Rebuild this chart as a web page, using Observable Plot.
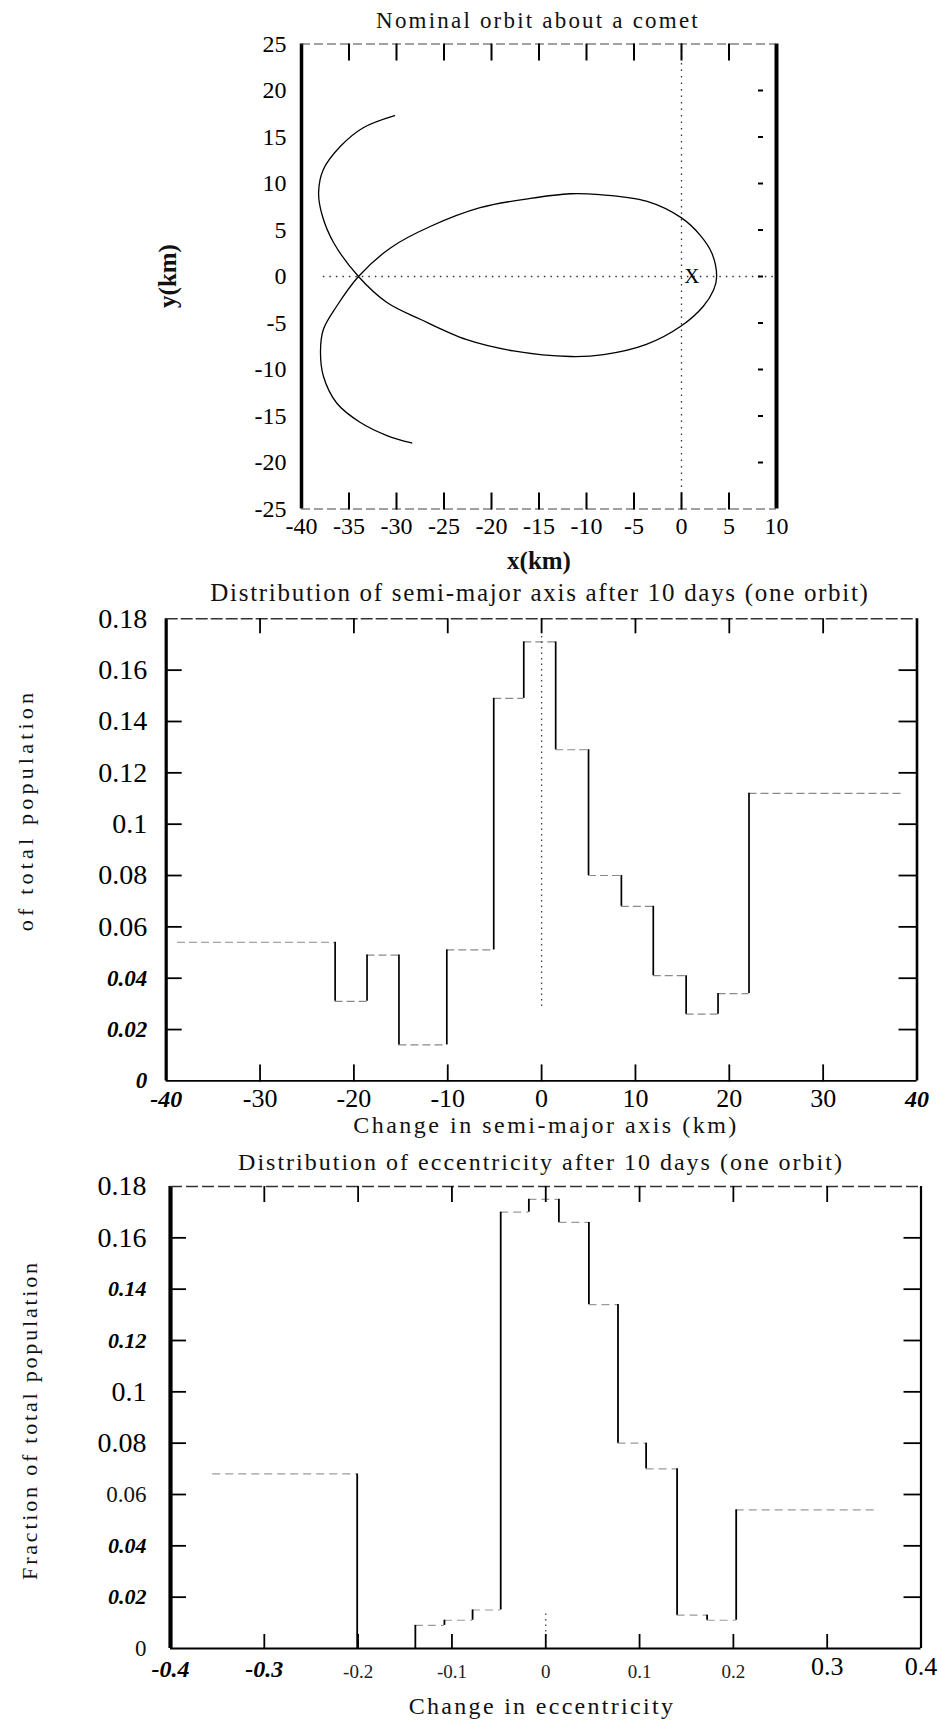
<!DOCTYPE html>
<html><head><meta charset="utf-8">
<script src="https://cdn.jsdelivr.net/npm/d3@7"></script>
<script src="https://cdn.jsdelivr.net/npm/@observablehq/plot@0.6"></script>
<style>
body{margin:0;background:#fff;}
#root{position:relative;width:939px;height:1720px;overflow:hidden;background:#fff;color:#000;font-family:"Liberation Serif","DejaVu Serif",serif;}
.p{position:absolute;left:0;}
.lbl{position:absolute;white-space:nowrap;font-family:"Liberation Serif","DejaVu Serif",serif;color:#111;transform:translate(-50%,-50%);line-height:1;}
.rot{transform:translate(-50%,-50%) rotate(-90deg);}
</style></head><body><div id="root"></div>
<script>
// ---------- Panel 1: nominal orbit ----------
const orbitX = [-30.2,-33.5,-35.9,-37.7,-38.2,-37.8,-36.6,-34.0,-31.0,-27.5,-22.6,-17.7,-11.7,-8.2,-3.7,0.0,2.3,3.4,3.7,3.2,2.0,0.0,-3.7,-8.6,-11.7,-15.9,-21.2,-26.4,-30.6,-34.0,-36.3,-37.7,-38.0,-37.7,-36.3,-33.8,-31.0,-28.4];
const orbitY = [17.3,16.0,14.0,11.5,9.0,6.5,3.6,0.0,-2.8,-4.6,-6.8,-8.0,-8.6,-8.4,-7.3,-5.3,-3.2,-1.4,0.0,2.5,4.4,6.3,8.1,8.8,8.9,8.4,7.4,5.4,3.1,0.0,-3.2,-5.7,-8.0,-10.7,-13.6,-15.7,-17.1,-17.9];
const originMarkX = [1.1];
const originMarkY = [0];
const orbitXTicks = [-40,-35,-30,-25,-20,-15,-10,-5,0,5,10];
const orbitYTicks = [25,20,15,10,5,0,-5,-10,-15,-20,-25];
const orbitInnerXTicks = [-35,-30,-25,-20,-15,-10,-5,0,5];
const orbitInnerYTicks = [20,15,10,5,0,-5,-10,-15,-20];

// ---------- Panel 2: semi-major axis histogram ----------
const semiEdges   = [-38.8,-22.0,-18.6,-15.2,-10.1,-5.1,-1.9,1.5,5.0,8.5,11.9,15.4,18.8,22.1,38.7];
const semiHeights = [0.054,0.031,0.049,0.014,0.051,0.149,0.171,0.129,0.080,0.068,0.041,0.026,0.034,0.112];
const semiYUpright = [0.18,0.16,0.14,0.12,0.1,0.08,0.06];
const semiYItalic  = [0.04,0.02,0];
const semiXUpright = [-30,-20,-10,0,10,20,30];
const semiXItalic  = [-40,40];
const semiInnerY = [0.02,0.04,0.06,0.08,0.1,0.12,0.14,0.16];
const semiInnerX = [-30,-20,-10,0,10,20,30];

// ---------- Panel 3: eccentricity histogram ----------
const eccEdges   = [-0.355,-0.201,-0.170,-0.139,-0.108,-0.078,-0.048,-0.018,0.014,0.046,0.077,0.107,0.140,0.172,0.203,0.355];
const eccHeights = [0.068,0.0,0.0,0.009,0.011,0.015,0.170,0.175,0.166,0.134,0.080,0.070,0.013,0.011,0.054];
const eccYLarge  = [0.18,0.16,0.1,0.08];
const eccYItalic = [0.14,0.12,0.04,0.02];
const eccYPlain  = [0.06,0];
const eccXItalic = [-0.4,-0.3];
const eccXSmall  = [-0.2,-0.1,0,0.1,0.2];
const eccXLarge  = [0.3,0.4];
const eccInnerY = [0.02,0.04,0.06,0.08,0.1,0.12,0.14,0.16];
const eccInnerX = [-0.3,-0.2,-0.1,0,0.1,0.2,0.3];

const FONT = "Liberation Serif, DejaVu Serif, serif";
const root = document.getElementById("root");

function stepSegments(edges, heights) {
  const hs = heights.map((h, i) => ({x1: edges[i], x2: edges[i + 1], y: h}));
  const vs = heights.slice(1).map((h, i) => ({x: edges[i + 1], y1: heights[i], y2: h}));
  return {hs, vs};
}
function place(el, top) { el.classList.add("p"); el.style.top = top + "px"; root.appendChild(el); }
function label(text, x, y, css, rot) {
  const d = document.createElement("div");
  d.className = "lbl" + (rot ? " rot" : "");
  d.textContent = text;
  d.style.left = x + "px"; d.style.top = y + "px";
  Object.assign(d.style, css || {});
  root.appendChild(d);
}
const innerTicks = (yt, xt, o) => [
  Plot.axisY(yt, {anchor: "right", frameAnchor: "left", tickSize: o.l, fill: "none", label: null, strokeWidth: 1.8}),
  Plot.axisY(yt, {anchor: "left", frameAnchor: "right", tickSize: o.r, fill: "none", label: null, strokeWidth: 1.8, dx: o.rdx || 0}),
  Plot.axisX(xt, {anchor: "bottom", frameAnchor: "top", tickSize: o.t, fill: "none", label: null, strokeWidth: 1.8}),
  Plot.axisX(xt, {anchor: "top", frameAnchor: "bottom", tickSize: o.b, fill: "none", label: null, strokeWidth: 1.8})
];

// ---- Panel 1 ----
const p1 = Plot.plot({
  width: 939, height: 580,
  marginTop: 43.5, marginBottom: 71.5, marginLeft: 301, marginRight: 163,
  style: {background: "transparent", fontFamily: FONT, color: "#000"},
  x: {domain: [-40, 10]},
  y: {domain: [-25, 25]},
  marks: [
    Plot.ruleY([0], {x1: -37.7, x2: 10, stroke: "#333", strokeDasharray: "1.5,5", strokeWidth: 1.3}),
    Plot.ruleX([0], {stroke: "#333", strokeDasharray: "1.5,5", strokeWidth: 1.3}),
    Plot.line(orbitX, {x: orbitX, y: orbitY, curve: "catmull-rom", stroke: "#000", strokeWidth: 1.3}),
    Plot.text(originMarkX, {x: originMarkX, y: originMarkY, text: () => "X", fontSize: 21, fill: "#000"}),
    Plot.ruleX([-40], {strokeWidth: 3.5}),
    Plot.ruleX([10], {strokeWidth: 4}),
    Plot.ruleY([25], {stroke: "#444", strokeDasharray: "9,4", strokeWidth: 1.2}),
    Plot.ruleY([-25], {stroke: "#444", strokeDasharray: "9,4", strokeWidth: 1.2}),
    Plot.axisX(orbitInnerXTicks, {anchor: "bottom", frameAnchor: "top", tickSize: 17, fill: "none", label: null, strokeWidth: 2}),
    Plot.axisX(orbitInnerXTicks, {anchor: "top", frameAnchor: "bottom", tickSize: 17, fill: "none", label: null, strokeWidth: 2}),
    Plot.axisY(orbitInnerYTicks, {anchor: "left", frameAnchor: "right", tickSize: 5, fill: "none", label: null, strokeWidth: 2, dx: -13}),
    Plot.text(orbitYTicks, {y: d => d, text: d => String(d), frameAnchor: "left", textAnchor: "end", dx: -15, fontSize: 24, fill: "#000"}),
    Plot.text(orbitXTicks, {x: d => d, text: d => String(d), frameAnchor: "bottom", dy: 25, fontSize: 24, fill: "#000"})
  ]
});
place(p1, 0);

// ---- Panel 2 ----
const s2 = stepSegments(semiEdges, semiHeights);
const p2 = Plot.plot({
  width: 939, height: 560,
  marginTop: 38.3, marginBottom: 59.6, marginLeft: 165.7, marginRight: 22.5,
  style: {background: "transparent", fontFamily: FONT, color: "#000"},
  x: {domain: [-40, 40]},
  y: {domain: [0, 0.18]},
  marks: [
    Plot.ruleY(s2.hs, {x1: "x1", x2: "x2", y: "y", stroke: "#8a8a8a", strokeDasharray: "8,4", strokeWidth: 1.2}),
    Plot.ruleX(s2.vs, {x: "x", y1: "y1", y2: "y2", stroke: "#000", strokeWidth: 1.7}),
    Plot.ruleX([0], {y1: 0.029, y2: 0.174, stroke: "#444", strokeDasharray: "1.5,4", strokeWidth: 1.3}),
    Plot.ruleX([-40], {strokeWidth: 3.2}),
    Plot.ruleX([40], {strokeWidth: 2.6}),
    Plot.ruleY([0], {strokeWidth: 1.6}),
    Plot.ruleY([0.18], {stroke: "#333", strokeDasharray: "12,3", strokeWidth: 1.4}),
    ...innerTicks(semiInnerY, semiInnerX, {l: 15, r: 18, t: 15, b: 17}),
    Plot.text(semiYUpright, {y: d => d, text: d => String(d), frameAnchor: "left", textAnchor: "end", dx: -19, fontSize: 28, fill: "#000"}),
    Plot.text(semiYItalic, {y: d => d, text: d => String(d), frameAnchor: "left", textAnchor: "end", dx: -19, fontSize: 23, fontStyle: "italic", fontWeight: "bold", fill: "#000"}),
    Plot.text(semiXUpright, {x: d => d, text: d => String(d), frameAnchor: "bottom", dy: 26, fontSize: 26, fill: "#000"}),
    Plot.text(semiXItalic, {x: d => d, text: d => String(d), frameAnchor: "bottom", dy: 26, fontSize: 24, fontStyle: "italic", fontWeight: "bold", fill: "#000"})
  ]
});
place(p2, 580);

// ---- Panel 3 ----
const s3 = stepSegments(eccEdges, eccHeights);
const p3 = Plot.plot({
  width: 939, height: 580,
  marginTop: 46, marginBottom: 72, marginLeft: 170, marginRight: 18.5,
  style: {background: "transparent", fontFamily: FONT, color: "#000"},
  x: {domain: [-0.4, 0.4]},
  y: {domain: [0, 0.18]},
  marks: [
    Plot.ruleY(s3.hs, {x1: "x1", x2: "x2", y: "y", stroke: "#9a9a9a", strokeDasharray: "8,5", strokeWidth: 1.2}),
    Plot.ruleX(s3.vs, {x: "x", y1: "y1", y2: "y2", stroke: "#000", strokeWidth: 1.8}),
    Plot.ruleX([0], {y1: 0, y2: 0.015, stroke: "#444", strokeDasharray: "1.5,4", strokeWidth: 1.3}),
    Plot.ruleX([-0.4], {strokeWidth: 4.2}),
    Plot.ruleX([0.4], {strokeWidth: 2.2}),
    Plot.ruleY([0], {strokeWidth: 1.8}),
    Plot.ruleY([0.18], {stroke: "#333", strokeDasharray: "12,4", strokeWidth: 1.4}),
    ...innerTicks(eccInnerY, eccInnerX, {l: 15, r: 17, t: 16, b: 15}),
    Plot.text(eccYLarge, {y: d => d, text: d => String(d), frameAnchor: "left", textAnchor: "end", dx: -24, fontSize: 28, fill: "#000"}),
    Plot.text(eccYItalic, {y: d => d, text: d => String(d), frameAnchor: "left", textAnchor: "end", dx: -24, fontSize: 22, fontStyle: "italic", fontWeight: "bold", fill: "#000"}),
    Plot.text(eccYPlain, {y: d => d, text: d => String(d), frameAnchor: "left", textAnchor: "end", dx: -24, fontSize: 23, fill: "#111"}),
    Plot.text(eccXItalic, {x: d => d, text: d => String(d), frameAnchor: "bottom", dy: 28, fontSize: 24, fontStyle: "italic", fontWeight: "bold", fill: "#000"}),
    Plot.text(eccXSmall, {x: d => d, text: d => String(d), frameAnchor: "bottom", dy: 29, fontSize: 19, fill: "#222"}),
    Plot.text(eccXLarge, {x: d => d, text: d => String(d), frameAnchor: "bottom", dy: 26, fontSize: 26, fill: "#000"})
  ]
});
place(p3, 1140);

// ---- titles & axis labels ----
label("Nominal orbit about a comet", 538, 20, {fontSize: "23px", letterSpacing: "2.2px"});
label("x(km)", 539, 560, {fontSize: "25px", fontWeight: "bold"});
label("y(km)", 167, 276, {fontSize: "25px", fontWeight: "bold"}, true);
label("Distribution of semi-major axis after 10 days (one orbit)", 540, 592, {fontSize: "25px", letterSpacing: "1.7px"});
label("Change in semi-major axis (km)", 546, 1125, {fontSize: "24px", letterSpacing: "2.5px"});
label("of total population", 26, 810, {fontSize: "22px", letterSpacing: "4.2px"}, true);
label("Distribution of eccentricity after 10 days (one orbit)", 541, 1162, {fontSize: "24px", letterSpacing: "2px"});
label("Change in eccentricity", 542, 1706, {fontSize: "24px", letterSpacing: "2.3px"});
label("Fraction of total population", 30, 1420, {fontSize: "22px", letterSpacing: "2.8px"}, true);
</script></body></html>
